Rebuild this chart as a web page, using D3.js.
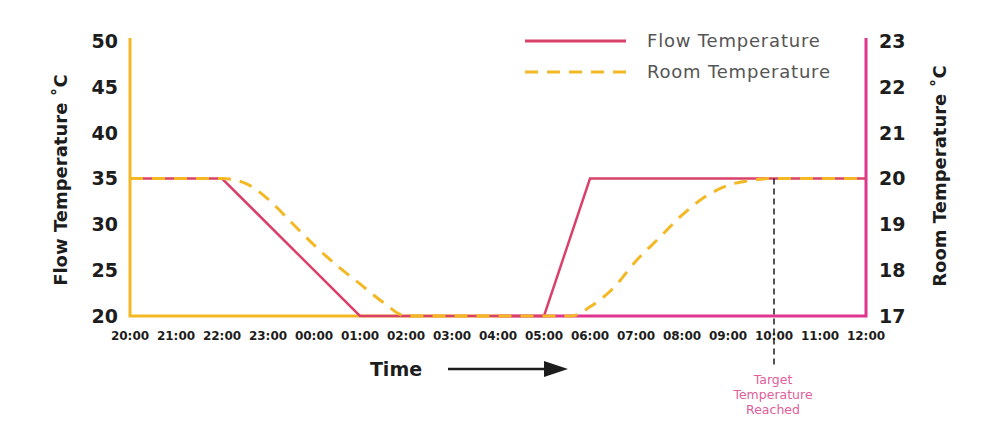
<!DOCTYPE html>
<html>
<head>
<meta charset="utf-8">
<script src="https://cdn.jsdelivr.net/npm/d3@7"></script>
<style>
  body { margin: 0; background: #fff; }
  svg { display: block; font-family: "DejaVu Sans", sans-serif; }
</style>
</head>
<body>
<svg id="chart" width="1000" height="442"></svg>
<script>
// hours since 20:00
const timeLabels = ['20:00', '21:00', '22:00', '23:00', '00:00', '01:00', '02:00', '03:00',
  '04:00', '05:00', '06:00', '07:00', '08:00', '09:00', '10:00', '11:00', '12:00'];
const flowHours = [0, 2, 5, 9, 10, 16];
const flowValues = [35, 35, 20, 20, 35, 35];
const roomHours = [0, 2, 2.5, 3, 3.5, 4, 4.5, 5, 5.5, 6, 9, 9.6, 10, 10.5, 11, 11.5, 12, 12.5, 13, 13.5, 14, 16];
const roomValues = [20, 20, 19.9, 19.55, 19.05, 18.55, 18.1, 17.7, 17.3, 17, 17, 17, 17.2, 17.6, 18.2, 18.7, 19.2, 19.6, 19.85, 19.96, 20, 20];
const flowTicks = [20, 25, 30, 35, 40, 45, 50];
const roomTicks = [17, 18, 19, 20, 21, 22, 23];
const targetHour = 14;

const pink = '#d9416b';
const magenta = '#e0358f';
const yellow = '#f4b824';
const ink = '#1d1d1d';

const svg = d3.select('#chart');
const x = d3.scaleLinear().domain([0, 16]).range([130, 866]);
const yFlow = d3.scaleLinear().domain([20, 50]).range([316, 41]);
const yRoom = d3.scaleLinear().domain([17, 23]).range([316, 41]);

// frame: yellow left half, pink right half
svg.append('path')
  .attr('d', `M${x(0)},38 V${yFlow(20)} H${x(8)}`)
  .attr('fill', 'none').attr('stroke', yellow).attr('stroke-width', 3);
svg.append('path')
  .attr('d', `M${x(8)},${yFlow(20)} H${x(16)} V38`)
  .attr('fill', 'none').attr('stroke', magenta).attr('stroke-width', 3);

// left axis
svg.append('g')
  .selectAll('text')
  .data(flowTicks)
  .join('text')
  .attr('x', 118).attr('y', d => yFlow(d))
  .attr('dy', '0.36em').attr('text-anchor', 'end')
  .attr('font-size', 19).attr('font-weight', 'bold').attr('fill', ink)
  .text(d => d);

// right axis
svg.append('g')
  .selectAll('text')
  .data(roomTicks)
  .join('text')
  .attr('x', 879).attr('y', d => yRoom(d))
  .attr('dy', '0.36em').attr('text-anchor', 'start')
  .attr('font-size', 19).attr('font-weight', 'bold').attr('fill', ink)
  .text(d => d);

// x labels
svg.append('g')
  .selectAll('text')
  .data(timeLabels)
  .join('text')
  .attr('x', (d, i) => x(i)).attr('y', 336)
  .attr('dy', '0.36em').attr('text-anchor', 'middle')
  .attr('font-size', 12).attr('font-weight', 'bold').attr('fill', ink)
  .text(d => d);

// axis titles
svg.append('text')
  .attr('transform', 'translate(67,180) rotate(-90)')
  .attr('text-anchor', 'middle').attr('font-size', 18).attr('font-weight', 'bold').attr('fill', ink)
  .text('Flow Temperature ˚C');
svg.append('text')
  .attr('transform', 'translate(946,176) rotate(-90)')
  .attr('text-anchor', 'middle').attr('font-size', 18).attr('font-weight', 'bold').attr('fill', ink)
  .text('Room Temperature ˚C');

// lines
const flowLine = d3.line().x(d => x(d[0])).y(d => yFlow(d[1]));
svg.append('path')
  .datum(d3.zip(flowHours, flowValues))
  .attr('d', flowLine)
  .attr('fill', 'none').attr('stroke', pink).attr('stroke-width', 2.5);

const roomLine = d3.line().x(d => x(d[0])).y(d => yRoom(d[1])).curve(d3.curveMonotoneX);
svg.append('path')
  .datum(d3.zip(roomHours, roomValues))
  .attr('d', roomLine)
  .attr('fill', 'none').attr('stroke', yellow).attr('stroke-width', 3)
  .attr('stroke-dasharray', '13,9');

// target marker
svg.append('line')
  .attr('x1', x(targetHour)).attr('x2', x(targetHour))
  .attr('y1', yRoom(20)).attr('y2', 366)
  .attr('stroke', ink).attr('stroke-width', 1.5).attr('stroke-dasharray', '6,4');
svg.append('text')
  .attr('x', x(targetHour) - 1).attr('y', 384)
  .attr('text-anchor', 'middle').attr('font-size', 12.5).attr('fill', '#e0609a')
  .selectAll('tspan')
  .data(['Target', 'Temperature', 'Reached'])
  .join('tspan')
  .attr('x', x(targetHour) - 1).attr('dy', (d, i) => i ? 15 : 0)
  .text(d => d);

// time label and arrow
svg.append('text')
  .attr('x', 396).attr('y', 369).attr('dy', '0.36em')
  .attr('text-anchor', 'middle').attr('font-size', 19).attr('font-weight', 'bold').attr('fill', ink)
  .text('Time');
svg.append('line')
  .attr('x1', 448).attr('x2', 548).attr('y1', 369).attr('y2', 369)
  .attr('stroke', ink).attr('stroke-width', 2.5);
svg.append('path')
  .attr('d', 'M544,361 L568,369 L544,377 Z')
  .attr('fill', ink);

// legend
const legend = [
  { label: 'Flow Temperature', color: pink, dash: null, y: 41 },
  { label: 'Room Temperature', color: yellow, dash: '13,9', y: 72 },
];
const lg = svg.append('g').selectAll('g').data(legend).join('g');
lg.append('line')
  .attr('x1', 525).attr('x2', 626).attr('y1', d => d.y).attr('y2', d => d.y)
  .attr('stroke', d => d.color).attr('stroke-width', 3)
  .attr('stroke-dasharray', d => d.dash);
lg.append('text')
  .attr('x', 647).attr('y', d => d.y).attr('dy', '0.36em')
  .attr('font-size', 18).attr('letter-spacing', 0.8).attr('fill', '#555')
  .text(d => d.label);
</script>
</body>
</html>
